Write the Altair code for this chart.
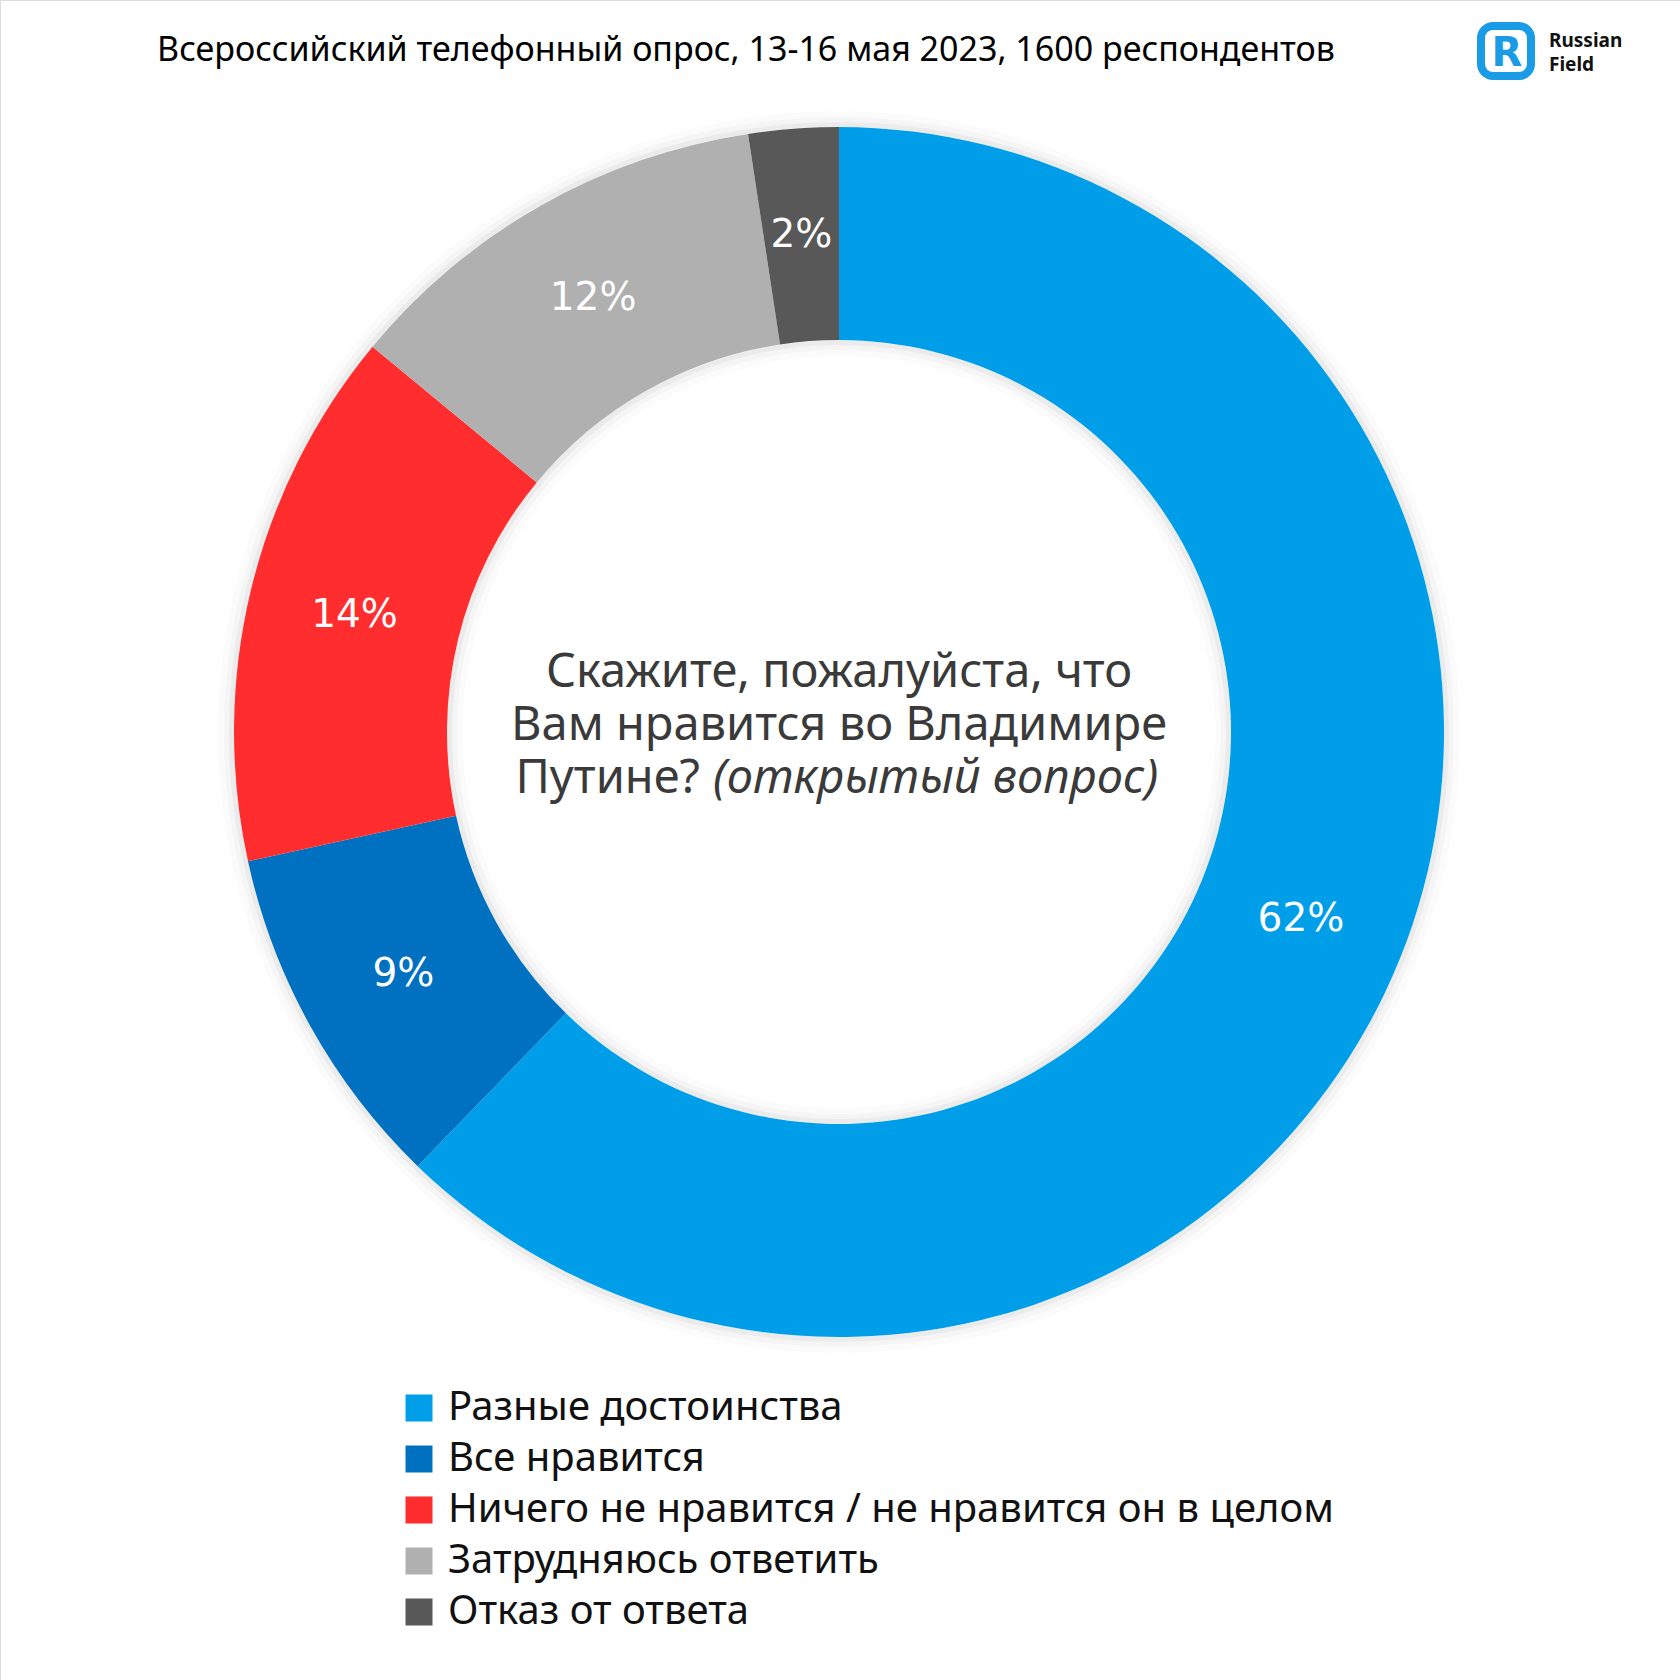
import altair as alt
import pandas as pd

categories = ["Разные достоинства", "Все нравится", "Ничего не нравится / не нравится он в целом",
              "Затрудняюсь ответить", "Отказ от ответа"]
values = [62.2, 9.3, 14.4, 11.6, 2.4]
labels = ["62%", "9%", "14%", "12%", "2%"]
colors = ["#009EE8", "#0070C0", "#FF2D2D", "#B0B0B0", "#585858"]

title_text = "Всероссийский телефонный опрос, 13-16 мая 2023, 1600 респондентов"
center_lines = ["Скажите, пожалуйста, что", "Вам нравится во Владимире"]
center_line3a = "Путине?"
center_line3b = "(открытый вопрос)"

df = pd.DataFrame({"cat": categories, "val": values, "label": labels, "idx": list(range(len(values)))})

CX, CY = 839, 732
R_IN, R_OUT = 392, 605
FONT = "Noto Sans"

color_scale = alt.Scale(domain=categories, range=colors)

base = alt.Chart(df)

# faint shadow rings
shadow_df = pd.DataFrame({
    "r1": [R_OUT, R_OUT, R_OUT, R_IN - 5, R_IN - 10, R_IN - 16],
    "r2": [R_OUT + 5, R_OUT + 10, R_OUT + 16, R_IN, R_IN, R_IN],
    "op": [0.04, 0.025, 0.015, 0.04, 0.025, 0.015]})
shadow = alt.Chart(shadow_df).mark_arc(color="#000000").encode(
    x=alt.value(CX), y=alt.value(CY),
    theta=alt.value(0), theta2=alt.value(6.2832),
    radius=alt.Radius("r1:Q", scale=None), radius2=alt.Radius2("r2:Q"),
    opacity=alt.Opacity("op:Q", scale=None),
)

arcs = base.mark_arc(innerRadius=R_IN, outerRadius=R_OUT).encode(
    x=alt.value(CX), y=alt.value(CY),
    theta=alt.Theta("val:Q", stack=True),
    order=alt.Order("idx:Q"),
    color=alt.Color("cat:N", scale=color_scale, sort=categories,
                    legend=alt.Legend(title=None, orient="none", legendX=399, legendY=1388,
                                      symbolType="square", symbolSize=729, symbolStrokeWidth=0,
                                      labelFontSize=40, labelFont=FONT, labelColor="#111111",
                                      rowPadding=11, labelOffset=9, labelLimit=1200)),
)

pct = base.mark_text(radius=(R_IN + R_OUT) / 2, fontSize=39, font="DejaVu Sans", color="white").encode(
    x=alt.value(CX), y=alt.value(CY),
    theta=alt.Theta("val:Q", stack=True),
    order=alt.Order("idx:Q"),
    text="label:N",
)

title = alt.Chart(pd.DataFrame({"t": [title_text]})).mark_text(
    fontSize=34, font=FONT, color="#000000", align="center", baseline="middle"
).encode(x=alt.value(746), y=alt.value(51), text="t:N")

center_df = pd.DataFrame({"t": center_lines, "y": [673, 726]})
center = alt.Chart(center_df).mark_text(
    fontSize=47, font=FONT, color="#3a3a3a", align="center", baseline="middle"
).encode(x=alt.value(CX), y=alt.Y("y:Q", scale=None), text="t:N")

c3a = alt.Chart(pd.DataFrame({"t": [center_line3a]})).mark_text(
    fontSize=47, font=FONT, color="#3a3a3a", align="right", baseline="middle"
).encode(x=alt.value(700), y=alt.value(779), text="t:N")
c3b = alt.Chart(pd.DataFrame({"t": [center_line3b]})).mark_text(
    fontSize=47, font=FONT, fontStyle="italic", color="#3a3a3a", align="left", baseline="middle"
).encode(x=alt.value(713), y=alt.value(779), text="t:N")

# logo
logo_box = alt.Chart(pd.DataFrame({"a": [0]})).mark_rect(
    fill=None, stroke="#1A9BE6", strokeWidth=8, cornerRadius=12
).encode(x=alt.value(1481), x2=alt.value(1531), y=alt.value(26), y2=alt.value(76))
logo_r = alt.Chart(pd.DataFrame({"t": ["R"]})).mark_text(
    fontSize=40, font="DejaVu Sans", fontWeight="bold", color="#1A9BE6", align="center", baseline="middle"
).encode(x=alt.value(1507), y=alt.value(54), text="t:N")
logo_txt = alt.Chart(pd.DataFrame({"t": ["Russian", "Field"], "y": [41, 65]})).mark_text(
    fontSize=19, font=FONT, fontWeight="bold", color="#111111", align="left", baseline="middle"
).encode(x=alt.value(1549), y=alt.Y("y:Q", scale=None), text="t:N")

chart = alt.layer(shadow, arcs, pct, title, center, c3a, c3b, logo_box, logo_r, logo_txt).properties(
    width=1680, height=1680, autosize=alt.AutoSizeParams(type="none"), padding=0
).configure_view(strokeWidth=0).configure(background="white")

chart.save("out.html", embed_options={"renderer": "svg", "actions": False})
